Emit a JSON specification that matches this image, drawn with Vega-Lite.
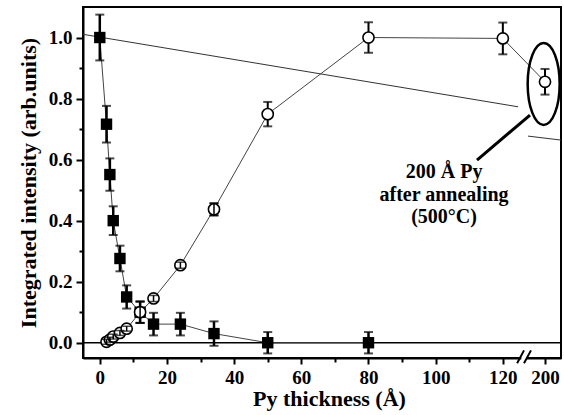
{
  "$schema": "https://vega.github.io/schema/vega-lite/v6.json",
  "width": 478,
  "height": 351,
  "autosize": {"type": "none"},
  "padding": {"left": 83, "top": 7, "right": 3, "bottom": 57},
  "background": "white",
  "config": {
    "view": {"stroke": "black", "strokeWidth": 2},
    "axis": {
      "grid": false,
      "domainColor": "black",
      "domainWidth": 2,
      "tickColor": "black",
      "tickWidth": 2,
      "labelColor": "black",
      "labelFont": "Liberation Serif",
      "labelFontWeight": "bold",
      "labelFontSize": 19,
      "titleColor": "black",
      "titleFont": "Liberation Serif",
      "titleFontWeight": "bold",
      "titleFontSize": 22,
      "labelFlush": false,
      "labelOverlap": false
    }
  },
  "datasets": {
    "squares": [
      {"x": 0, "y": 1.0, "err": 0.075},
      {"x": 2, "y": 0.716, "err": 0.06},
      {"x": 3, "y": 0.551, "err": 0.053},
      {"x": 4, "y": 0.40, "err": 0.047},
      {"x": 6, "y": 0.276, "err": 0.042},
      {"x": 8, "y": 0.150, "err": 0.038},
      {"x": 12, "y": 0.10, "err": 0.035},
      {"x": 16, "y": 0.061, "err": 0.037},
      {"x": 24, "y": 0.061, "err": 0.037},
      {"x": 34, "y": 0.03, "err": 0.04},
      {"x": 50, "y": 0.0, "err": 0.035},
      {"x": 80, "y": 0.0, "err": 0.035}
    ],
    "circles": [
      {"x": 2, "y": 0.003, "err": 0.008},
      {"x": 3, "y": 0.01, "err": 0.008},
      {"x": 4, "y": 0.02, "err": 0.008},
      {"x": 6, "y": 0.032, "err": 0.008},
      {"x": 8, "y": 0.046, "err": 0.008},
      {"x": 12, "y": 0.10, "err": 0.035},
      {"x": 16, "y": 0.145, "err": 0.01},
      {"x": 24, "y": 0.254, "err": 0.01},
      {"x": 34, "y": 0.437, "err": 0.02},
      {"x": 50, "y": 0.749, "err": 0.04},
      {"x": 80, "y": 1.0, "err": 0.05},
      {"x": 120, "y": 0.997, "err": 0.052},
      {"x": 200, "y": 0.855, "err": 0.042}
    ],
    "refline": [
      {"seg": "a", "x": -5, "y": 1.0105},
      {"seg": "a", "x": 124.55, "y": 0.773},
      {"seg": "b", "x": 194.9, "y": 0.677},
      {"seg": "b", "x": 204.8, "y": 0.664}
    ],
    "zero": [{"y": 0}],
    "pointer": [{"x": 195.5, "y": 0.746, "x2": 112.3, "y2": 0.598}],
    "ellipse": [{"x": 199.6, "y": 0.848}],
    "note": [
      {"x": 102.5, "y": 0.539, "t": "200 Å Py"},
      {"x": 102.5, "y": 0.466, "t": "after annealing"},
      {"x": 102.5, "y": 0.393, "t": "(500°C)"}
    ],
    "gap": [{"x": 125.5, "x2": 194.5, "y": -0.058, "y2": -0.042}],
    "slashes": [
      {"x": 124.25, "y": -0.067, "x2": 126.3, "y2": -0.025},
      {"x": 193.7, "y": -0.067, "x2": 195.8, "y2": -0.025}
    ]
  },
  "resolve": {"axis": {"x": "independent", "y": "independent"}},
  "layer": [
    {
      "data": {"name": "zero"},
      "mark": {"type": "rule", "color": "black", "strokeWidth": 1.5},
      "encoding": {
        "y": {
          "field": "y", "type": "quantitative",
          "scale": {"domain": [-0.05, 1.1], "nice": false, "zero": false},
          "axis": {
            "orient": "left",
            "values": [0, 0.2, 0.4, 0.6, 0.8, 1.0],
            "format": ".1f",
            "tickSize": 7,
            "labelPadding": 4,
            "title": "Integrated intensity (arb.units)",
            "titleX": -48,
            "titleY": 175.5,
            "titleAngle": -90,
            "titleAlign": "center",
            "titleBaseline": "alphabetic"
          }
        }
      }
    },
    {
      "data": {"name": "refline"},
      "mark": {"type": "line", "color": "#333", "strokeWidth": 1},
      "encoding": {
        "x": {
          "field": "x", "type": "quantitative",
          "scale": {"domain": [-5, 126.3, 193.7, 204.8], "range": [0, 441, 441, 478], "nice": false, "zero": false},
          "axis": {
            "orient": "bottom",
            "values": [0, 20, 40, 60, 80, 100, 120, 200],
            "format": "d",
            "tickSize": 6,
            "labelPadding": 4,
            "title": "Py thickness (Å)",
            "titleX": 246,
            "titleY": 47,
            "titleAlign": "center",
            "titleBaseline": "alphabetic"
          }
        },
        "y": {
          "field": "y", "type": "quantitative",
          "axis": {
            "orient": "left",
            "values": [0.1, 0.3, 0.5, 0.7, 0.9],
            "labels": false,
            "domain": false,
            "tickSize": 4,
            "title": null
          }
        },
        "detail": {"field": "seg"}
      }
    },
    {
      "data": {"name": "gap"},
      "mark": {"type": "rect", "color": "white"},
      "encoding": {
        "x": {
          "field": "x", "type": "quantitative",
          "axis": {
            "orient": "bottom",
            "values": [10, 30, 50, 70, 90, 110],
            "labels": false,
            "domain": false,
            "tickSize": 4,
            "title": null
          }
        },
        "x2": {"field": "x2"},
        "y": {"field": "y", "type": "quantitative", "axis": null},
        "y2": {"field": "y2"}
      }
    },
    {
      "data": {"name": "slashes"},
      "mark": {"type": "rule", "color": "black", "strokeWidth": 2},
      "encoding": {
        "x": {"field": "x", "type": "quantitative", "axis": null},
        "x2": {"field": "x2"},
        "y": {"field": "y", "type": "quantitative", "axis": null},
        "y2": {"field": "y2"}
      }
    },
    {
      "data": {"name": "squares"},
      "mark": {"type": "line", "color": "#444", "strokeWidth": 1},
      "encoding": {
        "x": {"field": "x", "type": "quantitative", "axis": null},
        "y": {"field": "y", "type": "quantitative", "axis": null}
      }
    },
    {
      "data": {"name": "circles"},
      "mark": {"type": "line", "color": "#444", "strokeWidth": 1},
      "encoding": {
        "x": {"field": "x", "type": "quantitative", "axis": null},
        "y": {"field": "y", "type": "quantitative", "axis": null}
      }
    },
    {
      "data": {"name": "squares"},
      "mark": {"type": "errorbar", "color": "black", "thickness": 2.5, "ticks": {"size": 9, "thickness": 2, "color": "black"}},
      "encoding": {
        "x": {"field": "x", "type": "quantitative", "axis": null},
        "y": {"field": "y", "type": "quantitative", "axis": null},
        "yError": {"field": "err"}
      }
    },
    {
      "data": {"name": "squares"},
      "mark": {"type": "point", "shape": "square", "filled": true, "color": "black", "size": 130, "opacity": 1},
      "encoding": {
        "x": {"field": "x", "type": "quantitative", "axis": null},
        "y": {"field": "y", "type": "quantitative", "axis": null}
      }
    },
    {
      "data": {"name": "circles"},
      "mark": {"type": "errorbar", "color": "black", "thickness": 2, "ticks": {"size": 9, "thickness": 2, "color": "black"}},
      "encoding": {
        "x": {"field": "x", "type": "quantitative", "axis": null},
        "y": {"field": "y", "type": "quantitative", "axis": null},
        "yError": {"field": "err"}
      }
    },
    {
      "data": {"name": "circles"},
      "mark": {"type": "point", "shape": "circle", "filled": false, "fill": "white", "fillOpacity": 1, "stroke": "black", "strokeWidth": 1.6, "size": 125, "opacity": 1},
      "encoding": {
        "x": {"field": "x", "type": "quantitative", "axis": null},
        "y": {"field": "y", "type": "quantitative", "axis": null}
      }
    },
    {
      "data": {"name": "circles"},
      "transform": [{"filter": "datum.err <= 0.035"}],
      "mark": {"type": "errorbar", "color": "black", "thickness": 1.5, "ticks": {"size": 9, "thickness": 1.5, "color": "black"}},
      "encoding": {
        "x": {"field": "x", "type": "quantitative", "axis": null},
        "y": {"field": "y", "type": "quantitative", "axis": null},
        "yError": {"field": "err"}
      }
    },
    {
      "data": {"name": "ellipse"},
      "mark": {"type": "point", "shape": "M0,-1 A0.39,1 0 1,0 0,1 A0.39,1 0 1,0 0,-1 Z", "filled": false, "stroke": "black", "strokeWidth": 2.5, "size": 6724, "opacity": 1},
      "encoding": {
        "x": {"field": "x", "type": "quantitative", "axis": null},
        "y": {"field": "y", "type": "quantitative", "axis": null}
      }
    },
    {
      "data": {"name": "pointer"},
      "mark": {"type": "rule", "color": "black", "strokeWidth": 3},
      "encoding": {
        "x": {"field": "x", "type": "quantitative", "axis": null},
        "x2": {"field": "x2"},
        "y": {"field": "y", "type": "quantitative", "axis": null},
        "y2": {"field": "y2"}
      }
    },
    {
      "data": {"name": "note"},
      "mark": {"type": "text", "font": "Liberation Serif", "fontWeight": "bold", "fontSize": 20, "align": "center", "baseline": "alphabetic", "color": "black"},
      "encoding": {
        "x": {"field": "x", "type": "quantitative", "axis": null},
        "y": {"field": "y", "type": "quantitative", "axis": null},
        "text": {"field": "t"}
      }
    }
  ]
}
